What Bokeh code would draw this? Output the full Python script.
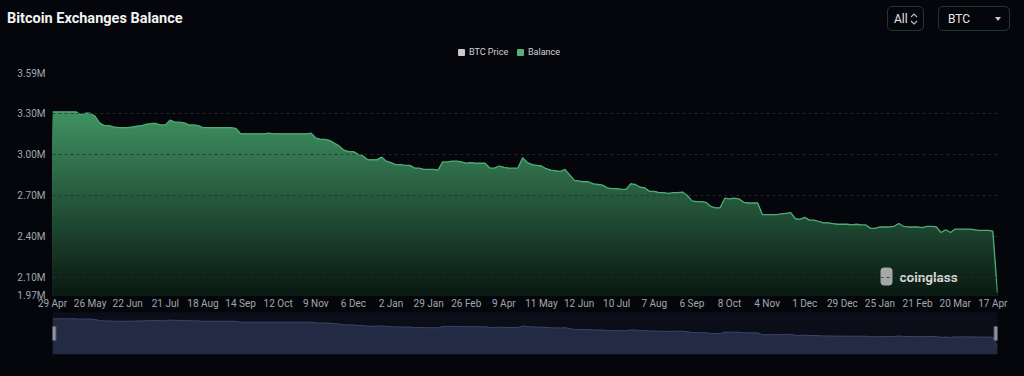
import numpy as np
from bokeh.plotting import figure
from bokeh.layouts import column
from bokeh.models import Range1d, FixedTicker, Label, BoxAnnotation, Div
from bokeh.embed import file_html
from bokeh.resources import INLINE

# ---------------- data ----------------
tick_labels = ["29 Apr", "26 May", "22 Jun", "21 Jul", "18 Aug", "14 Sep", "12 Oct",
               "9 Nov", "6 Dec", "2 Jan", "29 Jan", "26 Feb", "9 Apr", "11 May",
               "12 Jun", "10 Jul", "7 Aug", "6 Sep", "8 Oct", "4 Nov", "1 Dec",
               "29 Dec", "25 Jan", "21 Feb", "20 Mar", "17 Apr"]
points_per_label = 8

# exchange balance, millions of BTC
balance_m = [
    3.31, 3.31, 3.31, 3.31, 3.31, 3.31, 3.29, 3.30, 3.30, 3.28,
    3.23, 3.21, 3.21, 3.20, 3.195, 3.195, 3.195, 3.20, 3.205, 3.21,
    3.22, 3.225, 3.225, 3.215, 3.215, 3.25, 3.235, 3.235, 3.23, 3.215,
    3.215, 3.21, 3.195, 3.195, 3.195, 3.195, 3.195, 3.195, 3.195, 3.19,
    3.15, 3.15, 3.15, 3.15, 3.15, 3.15, 3.155, 3.15, 3.15, 3.15,
    3.15, 3.15, 3.15, 3.15, 3.15, 3.155, 3.12, 3.11, 3.11, 3.10,
    3.08, 3.06, 3.03, 3.02, 3.02, 3.00, 2.99, 2.96, 2.96, 2.96,
    2.98, 2.95, 2.94, 2.925, 2.925, 2.92, 2.92, 2.90, 2.90, 2.89,
    2.89, 2.89, 2.885, 2.945, 2.945, 2.95, 2.95, 2.945, 2.935, 2.94,
    2.935, 2.935, 2.935, 2.90, 2.90, 2.915, 2.905, 2.90, 2.90, 2.90,
    2.975, 2.94, 2.925, 2.92, 2.915, 2.895, 2.885, 2.88, 2.875, 2.89,
    2.85, 2.81, 2.805, 2.80, 2.80, 2.785, 2.78, 2.775, 2.755, 2.75,
    2.75, 2.745, 2.745, 2.785, 2.78, 2.76, 2.755, 2.73, 2.73, 2.72,
    2.72, 2.715, 2.72, 2.72, 2.725, 2.70, 2.66, 2.655, 2.655, 2.65,
    2.62, 2.61, 2.61, 2.68, 2.675, 2.68, 2.675, 2.65, 2.645, 2.645,
    2.645, 2.56, 2.56, 2.56, 2.56, 2.565, 2.57, 2.575, 2.53, 2.525,
    2.54, 2.52, 2.52, 2.51, 2.50, 2.50, 2.495, 2.49, 2.49, 2.49,
    2.485, 2.49, 2.485, 2.485, 2.46, 2.46, 2.47, 2.47, 2.47, 2.475,
    2.495, 2.475, 2.47, 2.47, 2.47, 2.465, 2.475, 2.475, 2.47, 2.43,
    2.45, 2.43, 2.455, 2.455, 2.455, 2.455, 2.45, 2.445, 2.445, 2.445,
    2.44, 1.99,
]

y_ticks = [1.97, 2.10, 2.40, 2.70, 3.00, 3.30, 3.59]
y_tick_labels = ["1.97M", "2.10M", "2.40M", "2.70M", "3.00M", "3.30M", "3.59M"]

legend_names = ["BTC Price", "Balance"]
title_text = "Bitcoin Exchanges Balance"

# ---------------- style / layout ----------------
BG = "#05060b"
W = 1024
FONT = "Roboto"
HEAD_H = 62
MAIN_H = 250          # 62 .. 312
SLD_H = 376 - HEAD_H - MAIN_H

xs = np.arange(len(balance_m))
bal = np.array(balance_m)
n = len(bal)
x_range = Range1d(0, n - 1)

# ---------------- header (html) ----------------
chev = ('<svg width="8" height="14" style="position:absolute;left:910px;top:12px">'
        '<polyline points="1,5 4,2 7,5" fill="none" stroke="#bdbdbd" stroke-width="1.1"/>'
        '<polyline points="1,9 4,12 7,9" fill="none" stroke="#bdbdbd" stroke-width="1.1"/></svg>')
header_html = f"""
<div style="position:relative;width:{W}px;height:{HEAD_H}px;background:{BG};font-family:{FONT},sans-serif;overflow:hidden">
  <span style="position:absolute;left:7px;top:9px;font-size:14.5px;font-weight:bold;color:#f2f2f2;white-space:nowrap">{title_text}</span>
  <span style="position:absolute;left:458px;top:48.5px;width:7px;height:7px;background:#c9c9c9;border-radius:1px"></span>
  <span style="position:absolute;left:469px;top:46px;font-size:9px;color:#d4d4d4;white-space:nowrap">{legend_names[0]}</span>
  <span style="position:absolute;left:517px;top:48.5px;width:7px;height:7px;background:#5aae7c;border-radius:1px"></span>
  <span style="position:absolute;left:528px;top:46px;font-size:9px;color:#d4d4d4;white-space:nowrap">{legend_names[1]}</span>
  <div style="position:absolute;left:887px;top:6px;width:37px;height:25px;border:1px solid #1e3932;border-radius:5px"></div>
  <span style="position:absolute;left:894px;top:11px;font-size:12px;color:#e6e6e6">All</span>
  {chev}
  <div style="position:absolute;left:938px;top:6px;width:72px;height:25px;border:1px solid #1e3932;border-radius:5px"></div>
  <span style="position:absolute;left:948px;top:11px;font-size:12px;color:#e6e6e6">BTC</span>
  <span style="position:absolute;left:995px;top:17px;width:0;height:0;border-left:3px solid transparent;border-right:3px solid transparent;border-top:4px solid #c8c8c8"></span>
</div>
"""
header = Div(text=header_html, width=W, height=HEAD_H, margin=0,
             styles={"background-color": BG})

# ---------------- main chart ----------------
p = figure(width=W, height=MAIN_H, x_range=x_range,
           y_range=Range1d(y_ticks[0], y_ticks[-1]),
           toolbar_location=None, output_backend="svg",
           min_border_left=52, min_border_right=27, min_border_top=11, min_border_bottom=17)
p.background_fill_color = BG
p.border_fill_color = BG
p.outline_line_color = None

ylo = y_ticks[0]
top_c = np.array([64, 146, 98])
bot_c = np.array([9, 24, 17])
ymax = float(bal.max())
nb = 50
for j in range(nb - 1, -1, -1):
    b = ylo + (ymax - ylo) * (j + 1) / nb
    t = (j + 0.5) / nb
    c = bot_c + (top_c - bot_c) * t
    col = "#%02x%02x%02x" % tuple(int(round(v)) for v in c)
    p.varea(x=xs, y1=ylo, y2=np.minimum(bal, b), fill_color=col)

p.line(x=xs, y=bal, line_color="#4dac74", line_width=1.3)

p.xaxis.ticker = FixedTicker(ticks=[i * points_per_label for i in range(len(tick_labels))])
p.xaxis.major_label_overrides = {i * points_per_label: lab for i, lab in enumerate(tick_labels)}
p.yaxis.ticker = FixedTicker(ticks=y_ticks)
p.yaxis.major_label_overrides = {v: lab for v, lab in zip(y_ticks, y_tick_labels)}
for ax in (p.xaxis, p.yaxis):
    ax.axis_line_color = None
    ax.major_tick_line_color = None
    ax.minor_tick_line_color = None
    ax.major_tick_out = 0
    ax.major_tick_in = 0
    ax.minor_tick_out = 0
    ax.axis_label_standoff = 0
    ax.major_label_text_color = "#a2a6ae"
    ax.major_label_text_font = FONT
    ax.major_label_text_font_size = "10px"
p.yaxis.major_label_standoff = 7
p.xaxis.major_label_standoff = 2
p.xgrid.visible = False
p.ygrid.ticker = FixedTicker(ticks=y_ticks)
p.ygrid.grid_line_color = "#2a2e36"
p.ygrid.grid_line_dash = "3 3"
p.ygrid.grid_line_alpha = 0.8
p.ygrid.level = "overlay"

# watermark (frame-relative screen px)
p.add_layout(BoxAnnotation(left=828, right=840, top=28, bottom=10,
                           left_units="screen", right_units="screen", top_units="screen",
                           bottom_units="screen", fill_color="#c9c9c9", fill_alpha=0.8,
                           line_color=None, border_radius=4))
p.add_layout(Label(x=847, y=19, x_units="screen", y_units="screen",
                   text="coinglass", text_font=FONT, text_font_style="bold",
                   text_font_size="13.5px", text_color="#d6d6d6", text_baseline="middle"))

# ---------------- data zoom slider ----------------
s_ppu = 21.15            # px per million in the zoom strip
s_top_val = float(bal.max())
s_top_off = 6.3          # px from strip top to max value
s_frame_h = SLD_H - 22
s_range = Range1d(s_top_val - (s_frame_h - s_top_off) / s_ppu, s_top_val + s_top_off / s_ppu)
s = figure(width=W, height=SLD_H, x_range=x_range, y_range=s_range,
           toolbar_location=None, output_backend="svg", x_axis_type=None, y_axis_type=None,
           min_border_left=52, min_border_right=27, min_border_top=0, min_border_bottom=22)
s.grid.visible = False
s.outline_line_color = None
s.background_fill_color = "#0b0e18"
s.border_fill_color = BG
s.varea(x=xs, y1=s_range.start, y2=bal, fill_color="#232a44")
s.line(x=xs, y=bal, line_color="#3c466a", line_width=1)
mid = (s_range.start + s_range.end) / 2
s.rect(x=[0, n - 1], y=[mid, mid], width=7, height=14, width_units="screen",
       height_units="screen", fill_color="#8e939c", line_color="#50555e")

layout = column(header, p, s, spacing=0, styles={"background-color": BG})
open("out.html", "w").write(file_html(layout, INLINE))
